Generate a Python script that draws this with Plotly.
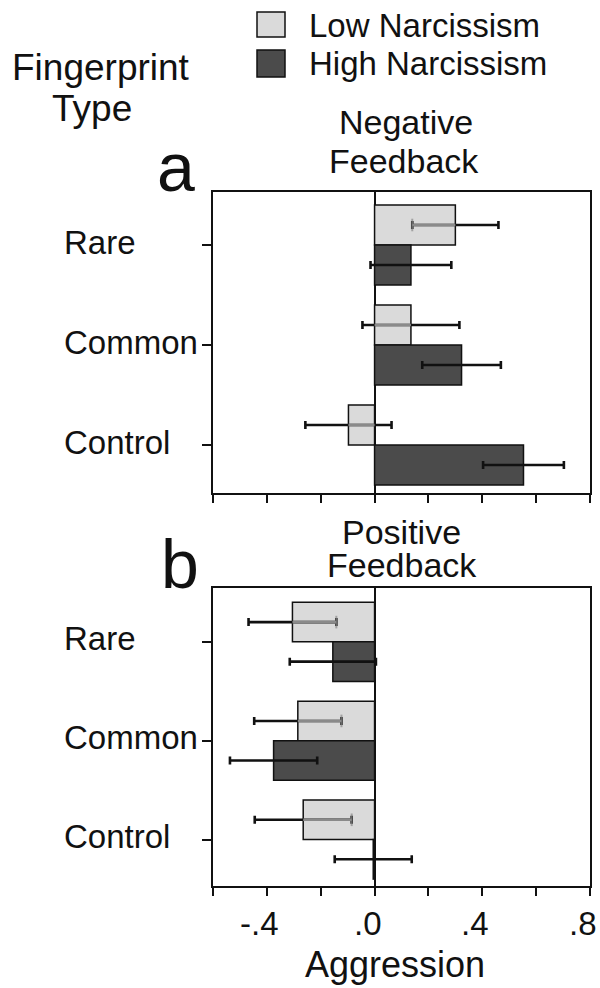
import plotly.graph_objects as go

# ---------------- data ----------------
categories = ["Rare", "Common", "Control"]
series_names = ["Low Narcissism", "High Narcissism"]
panel_titles = [["Negative", "Feedback"], ["Positive", "Feedback"]]
panel_letters = ["a", "b"]

neg_low_mean = [0.300, 0.135, -0.097]
neg_low_err = [0.160, 0.180, 0.160]
neg_high_mean = [0.135, 0.323, 0.553]
neg_high_err = [0.150, 0.146, 0.150]

pos_low_mean = [-0.305, -0.285, -0.265]
pos_low_err = [0.163, 0.162, 0.180]
pos_high_mean = [-0.155, -0.375, -0.005]
pos_high_err = [0.160, 0.162, 0.143]

x_tick_vals = [-0.6, -0.4, -0.2, 0.0, 0.2, 0.4, 0.6, 0.8]
x_tick_text = ["", "-.4", "", ".0", "", ".4", "", ".8"]
x_title = "Aggression"
y_title = ["Fingerprint", "Type"]

# ---------------- style ----------------
W, H = 600, 988
FONT = "Liberation Sans, Arial, Helvetica, sans-serif"
LIGHT = "#dadada"
DARK = "#4b4b4b"
GRAY = "#8a8a8a"
INK = "#111111"
BAR_W = 0.4


def fx(p):
    return p / W


def fy(p):
    return 1 - p / H


X_DOM = [fx(213), fx(590)]
Y_DOMS = [[fy(493), fy(192)], [fy(886), fy(588)]]
Y_RANGES = [[2.48, -0.53], [2.47, -0.545]]

panels = [
    (neg_low_mean, neg_low_err, neg_high_mean, neg_high_err),
    (pos_low_mean, pos_low_err, pos_high_mean, pos_high_err),
]

fig = go.Figure()
positions = list(range(len(categories)))

for k, (lm, le, hm, he) in enumerate(panels):
    xa = "x" if k == 0 else "x2"
    ya = "y" if k == 0 else "y2"
    errstyle = dict(type="data", visible=True, color=INK, thickness=2.6, width=4)
    fig.add_trace(go.Bar(
        y=positions, x=lm, orientation="h", offset=-BAR_W, width=BAR_W,
        name=series_names[0], showlegend=False,
        marker=dict(color=LIGHT, line=dict(color=INK, width=1.5)),
        error_x=dict(array=le, **errstyle), xaxis=xa, yaxis=ya,
    ))
    fig.add_trace(go.Bar(
        y=positions, x=hm, orientation="h", offset=0, width=BAR_W,
        name=series_names[1], showlegend=False,
        marker=dict(color=DARK, line=dict(color=INK, width=1.5)),
        error_x=dict(array=he, **errstyle), xaxis=xa, yaxis=ya,
    ))
    # grey inner part of the error bars of the light bars
    xs, ys, sizes = [], [], []
    for i, (m, e) in enumerate(zip(lm, le)):
        inner = min(e, abs(m))
        end = m - inner if m > 0 else m + inner
        yc = i - BAR_W / 2
        xs += [m, end, None]
        ys += [yc, yc, None]
        sizes += [0, 9 if e <= abs(m) else 0, 0]
    fig.add_trace(go.Scatter(
        x=xs, y=ys, mode="lines+markers", showlegend=False, hoverinfo="skip",
        line=dict(color=GRAY, width=2.6),
        marker=dict(symbol="line-ns", size=sizes, color=GRAY,
                    line=dict(color=GRAY, width=2)),
        xaxis=xa, yaxis=ya,
    ))

axis_common = dict(
    showline=True, linecolor=INK, linewidth=2, mirror=True,
    showgrid=False, ticks="outside", tickcolor=INK, tickwidth=2,
)

layout = dict(
    width=W, height=H, autosize=False, margin=dict(l=0, r=0, t=0, b=0),
    paper_bgcolor="white", plot_bgcolor="white",
    barmode="overlay", showlegend=False,
    font=dict(family=FONT, color=INK, size=30),
)
for k in range(2):
    sfx = "" if k == 0 else "2"
    layout["xaxis" + sfx] = dict(
        axis_common, domain=X_DOM, range=[-0.6, 0.8], anchor="y" + sfx,
        tickvals=x_tick_vals, showticklabels=False,
        ticklen=8, zeroline=True, zerolinecolor=INK, zerolinewidth=2,
    )
    layout["yaxis" + sfx] = dict(
        axis_common, domain=Y_DOMS[k], range=Y_RANGES[k], anchor="x" + sfx,
        tickvals=positions, showticklabels=False, ticklen=9,
        zeroline=False,
    )
fig.update_layout(**layout)

ann = []
# x tick labels of the lower panel (placed on the axis values)
for v, t in zip(x_tick_vals, x_tick_text):
    if t:
        ann.append(dict(text=t, xref="x2", x=v, xanchor="center", xshift=-7,
                        yref="paper", y=fy(923), yanchor="middle",
                        showarrow=False, font=dict(size=33)))

# category labels
for k in range(2):
    ya = "y" if k == 0 else "y2"
    for i, c in enumerate(categories):
        ann.append(dict(text=c, xref="paper", x=fx(62), xanchor="left",
                        yref=ya, y=i, yanchor="middle", yshift=3,
                        showarrow=False, font=dict(size=33)))

# panel titles
title_pos = [[(406, 122), (404, 161)], [(401, 532), (402, 565)]]
for k in range(2):
    for line, (cx, cy) in zip(panel_titles[k], title_pos[k]):
        ann.append(dict(text=line, xref="paper", yref="paper", x=fx(cx), y=fy(cy),
                        xanchor="center", yanchor="middle", showarrow=False,
                        font=dict(size=34)))

# panel letters
for letter, (cx, cy) in zip(panel_letters, [(176, 167), (180, 564)]):
    ann.append(dict(text=letter, xref="paper", yref="paper", x=fx(cx), y=fy(cy),
                    xanchor="center", yanchor="middle", showarrow=False,
                    font=dict(size=68)))

# y title
for line, (cx, cy) in zip(y_title, [(101, 68), (92, 109)]):
    ann.append(dict(text=line, xref="paper", yref="paper", x=fx(cx), y=fy(cy),
                    xanchor="center", yanchor="middle", showarrow=False,
                    font=dict(size=37)))

# x title
ann.append(dict(text=x_title, xref="paper", yref="paper", x=fx(395), y=fy(964),
                xanchor="center", yanchor="middle", showarrow=False,
                font=dict(size=36)))

# legend
shapes = []
for name, color, (top, bot), cy in zip(series_names, [LIGHT, DARK],
                                        [(12, 37), (50, 77)], [25, 63]):
    shapes.append(dict(type="rect", xref="paper", yref="paper",
                       x0=fx(257), x1=fx(285), y0=fy(bot), y1=fy(top),
                       fillcolor=color, line=dict(color=INK, width=1.5)))
    ann.append(dict(text=name, xref="paper", yref="paper", x=fx(307), y=fy(cy),
                    xanchor="left", yanchor="middle", showarrow=False,
                    font=dict(size=33)))

fig.update_layout(annotations=ann, shapes=shapes)
# remove the default page margin so the 600x988 figure fills the window exactly
fig.write_html(
    "out.html",
    config={"displayModeBar": False, "responsive": False},
    post_script="document.body.style.margin='0';"
                "document.documentElement.style.overflow='hidden';",
)
